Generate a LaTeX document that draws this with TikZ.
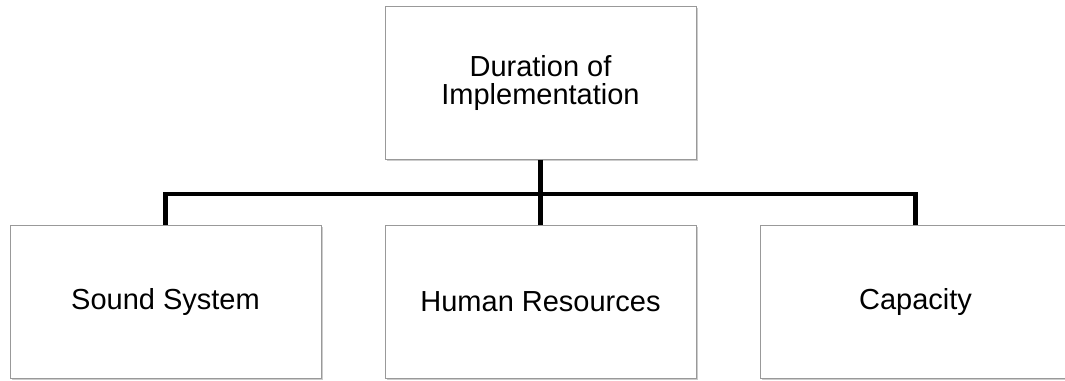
\documentclass[tikz,border=0pt]{standalone}
\usepackage{fontspec}
\setmainfont{Liberation Sans}
\usetikzlibrary{shadows}

\begin{document}
\begin{tikzpicture}
	[
	x=1pt, y=1pt,
	align=center,
	box/.style={rectangle,draw=black!40,line width=0.8pt,fill=white,
		minimum width=311pt,minimum height=153pt,inner sep=0pt,
		font=\fontsize{29}{28}\selectfont,
		drop shadow={shadow xshift=1.5pt,shadow yshift=-1.5pt,opacity=0.4}},
	link/.style={
           line width=4.5pt,
           line join=miter,
           draw=black,}
	]
		\useasboundingbox (0,0) rectangle (1065,380);

		% nodes
		\node[box] (top) at 		(540.5, 297.0) {\rule{0pt}{8pt}Duration of\\Implementation};
		\node[box] (sound) at 		(165.5,  78.0) {Sound System};
		\node[box] (human) at 		(540.5,  78.0) {Human Resources};
		\node[box] (capacity) at 	(915.5,  78.0) {Capacity};

		% junction
		\coordinate (hub) at 		(540.5, 186.0);

		% paths
		\draw[link] (top.south) -- (hub);
		\foreach \to in {sound,human,capacity} \draw[link] (hub) -| (\to.north);

	\end{tikzpicture}
\end{document}
